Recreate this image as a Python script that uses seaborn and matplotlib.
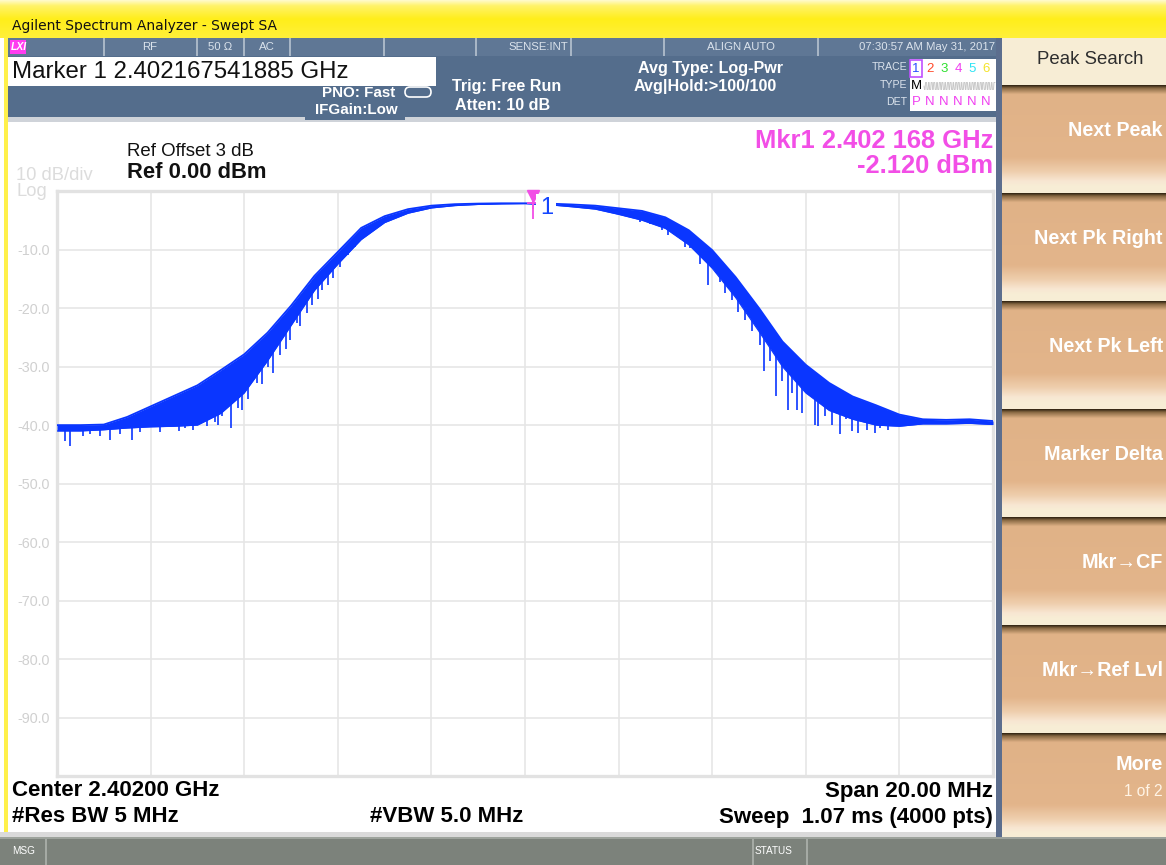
import matplotlib
matplotlib.use("Agg")
import numpy as np
import pandas as pd
import matplotlib.pyplot as plt
import matplotlib.patches as mpatches
from matplotlib import font_manager
from matplotlib.colors import LinearSegmentedColormap
from matplotlib.transforms import offset_copy
import seaborn as sns

# ---------------- instrument settings ----------------
center_mhz = 2402.0
span_mhz = 20.0
ref_dbm = 0.0
db_per_div = 10.0

# ---------------- measured trace (offset from centre, MHz / dBm) ----------------
offset_mhz = [-10.0, -9.5, -9.0, -8.5, -8.0, -7.5, -7.0, -6.5, -6.0, -5.5,
              -5.0, -4.5, -4.0, -3.5, -3.0, -2.5, -2.0, -1.5, -1.0, -0.5,
              0.0, 0.5, 1.0, 1.5, 2.0, 2.5, 3.0, 3.5, 4.0, 4.5,
              5.0, 5.5, 6.0, 6.5, 7.0, 7.5, 8.0, 8.5, 9.0, 9.5, 10.0]
peak_dbm = [-40.0, -40.0, -39.9, -38.6, -36.8, -35.0, -33.2, -30.6, -27.9, -24.2,
            -19.6, -14.5, -10.4, -6.3, -4.3, -3.1, -2.5, -2.25, -2.15, -2.1,
            -2.1, -2.15, -2.3, -2.5, -2.95, -3.4, -4.5, -6.7, -10.1, -14.7,
            -20.0, -25.7, -29.7, -32.8, -35.1, -36.6, -38.2, -39.0, -39.1, -39.0, -39.3]
floor_dbm = [-41.0, -41.0, -40.8, -40.5, -40.3, -40.2, -40.0, -38.0, -34.5, -29.0,
             -23.0, -17.0, -12.5, -8.3, -5.4, -3.8, -2.9, -2.5, -2.3, -2.2,
             -2.15, -2.35, -2.7, -3.1, -4.0, -5.0, -6.4, -9.2, -13.2, -18.2,
             -24.0, -30.0, -34.5, -37.5, -39.0, -40.0, -40.2, -39.8, -39.8, -39.7, -39.9]
dip_offset_mhz = [-9.83, -9.72, -9.45, -9.29, -9.08, -8.87, -8.65, -8.40, -8.23, -7.80,
                  -7.48, -7.40, -7.26, -7.09, -6.94, -6.80, -6.62, -6.55, -6.47, -6.28,
                  -6.13, -6.05, -5.92, -5.73, -5.62, -5.49, -5.39, -5.24, -5.10, -5.02,
                  -4.88, -4.81, -4.66, -4.55, -4.42, -4.34, -4.21, -4.10, -3.95, -3.78,
                  -3.63, -3.55, -3.42, -3.14,
                  2.46, 2.67, 2.92, 3.06, 3.42, 3.53, 3.74, 3.92, 4.17, 4.27,
                  4.42, 4.56, 4.70, 4.85, 5.02, 5.11, 5.24, 5.36, 5.49, 5.63,
                  5.71, 5.81, 5.92, 6.20, 6.27, 6.41, 6.56, 6.73, 6.86, 6.99,
                  7.12, 7.30, 7.48, 7.59, 7.76, 7.91]
dip_dbm = [-42.7, -43.6, -41.8, -41.5, -41.8, -42.5, -41.5, -42.5, -41.2, -41.1,
           -39.5, -41.0, -40.5, -40.8, -39.0, -40.2, -39.5, -40.0, -38.5, -40.5,
           -37.0, -37.4, -35.5, -32.8, -33.0, -30.0, -31.1, -28.0, -27.0, -25.5,
           -22.6, -23.0, -20.9, -19.5, -18.5, -16.9, -16.0, -14.9, -13.0, -10.9,
           -9.5, -8.5, -7.8, -6.2,
           -5.3, -5.6, -6.7, -7.5, -9.5, -9.8, -12.5, -16.0, -15.5, -17.5,
           -18.6, -20.6, -22.0, -24.0, -26.3, -30.8, -29.0, -35.1, -32.5, -37.4,
           -34.5, -37.4, -38.0, -39.9, -40.2, -38.5, -40.0, -41.6, -39.0, -41.0,
           -41.4, -40.8, -41.3, -40.5, -40.8, -40.2]
marker_offset_mhz = 0.168
marker_dbm = -2.120
ytick_dbm = [-10, -20, -30, -40, -50, -60, -70, -80, -90]

softkeys = ["Next Peak", "Next Pk Right", "Next Pk Left", "Marker Delta",
            "Mkr\u2192CF", "Mkr\u2192Ref Lvl", "More"]

# ---------------- style ----------------
sns.set_style("white")
installed = {f.name for f in font_manager.fontManager.ttflist}
SANS = ["Liberation Sans", "DejaVu Sans"]
HAS_NARROW = "Liberation Sans Narrow" in installed
NARROW = ["Liberation Sans Narrow", "DejaVu Sans"] if HAS_NARROW else SANS
plt.rcParams["font.family"] = SANS

TRACE_BLUE = "#0a36ff"
MAGENTA = "#f24ee6"
SLATE = "#546d8c"

W, H = 1166, 865
fig = plt.figure(figsize=(W / 100, H / 100), dpi=100, facecolor="white")

# screen chrome drawn in pixel coordinates; draw order follows call order
bg = fig.add_axes([0, 0, 1, 1], zorder=0)
bg.axis("off")
_z = [1.0]


def nz():
    _z[0] += 0.01
    return _z[0]


def box(x0, y0, x1, y1, color, **kw):
    bg.add_patch(mpatches.Rectangle((x0, y0), x1 - x0, y1 - y0, facecolor=color,
                                    edgecolor="none", zorder=nz(), **kw))


def vgrad(x0, y0, x1, y1, stops):
    cmap = LinearSegmentedColormap.from_list("g", stops)
    grad = np.linspace(0, 1, 256)[:, None]
    bg.imshow(grad, cmap=cmap, extent=(x0, x1, y1, y0), aspect="auto",
              interpolation="bilinear", origin="upper", zorder=nz())


def label(x, y, s, size, color="black", weight="normal", ha="left", family=None, **kw):
    bg.text(x, y, s, fontsize=size, color=color, fontweight=weight, ha=ha, va="center",
            family=family or SANS, zorder=nz(), **kw)


# title bar
vgrad(0, 0, W, 38, [(0, "#fffbd0"), (0.15, "#fff36a"), (0.5, "#ffee1a"), (1, "#fff03a")])
label(12, 26, "Agilent Spectrum Analyzer - Swept SA", 10, color="#111111",
      family=["DejaVu Sans"])
box(4, 38, 8, 838, "#fff04a")

# header block
box(8, 38, 997, 117, SLATE)
box(8, 38, 997, 56, "#5f7795")
for sx in [104, 197, 244, 290, 384, 476, 571, 664, 818]:
    box(sx - 1, 38, sx + 1, 56, "#a8b6c6")
box(10, 40, 26, 54, "#ff3cf0")
label(11, 47, "LXI", 7.5, color="white", weight="bold", style="italic")
hdr_c = "#dbe3ec"
label(150, 47, "RF", 8.2, color=hdr_c, ha="center", family=NARROW)
label(220, 47, "50 \u03a9", 8.2, color=hdr_c, ha="center", family=NARROW)
label(267, 47, "AC", 8.2, color=hdr_c, ha="center", family=NARROW)
label(568, 47, "SENSE:INT", 8.2, color=hdr_c, ha="right", family=NARROW)
label(741, 47, "ALIGN AUTO", 8.2, color=hdr_c, ha="center", family=NARROW)
label(995, 47, "07:30:57 AM May 31, 2017", 8.2, color=hdr_c, ha="right", family=NARROW)

box(8, 57, 436, 86, "white")
label(12, 72, "Marker 1 2.402167541885 GHz", 17.3, color="#111111")
box(8, 117, 997, 122, "#cfd3d9")
box(305, 100, 405, 120, SLATE)
label(322, 93, "PNO: Fast", 10.9, color="white", weight="bold")
label(315, 110, "IFGain:Low", 10.9, color="white", weight="bold")
bg.add_patch(mpatches.FancyBboxPatch((405, 87), 26, 10, boxstyle="round,pad=0,rounding_size=5",
                                     facecolor="none", edgecolor="white", lw=1.2, zorder=nz()))
label(452, 87, "Trig: Free Run", 11.6, color="white", weight="bold")
label(455, 106, "Atten: 10 dB", 11.6, color="white", weight="bold")
label(711, 68, "Avg Type: Log-Pwr", 11.6, color="white", weight="bold", ha="center")
label(705, 87, "Avg|Hold:>100/100", 11.6, color="white", weight="bold", ha="center")

# trace status box
label(907, 67, "TRACE", 7.6, color=hdr_c, ha="right", family=NARROW)
label(907, 85, "TYPE", 7.6, color=hdr_c, ha="right", family=NARROW)
label(907, 102, "DET", 7.6, color=hdr_c, ha="right", family=NARROW)
box(910, 59, 996, 111, "white")
trace_cols = ["#2a4dff", "#ff4a2a", "#2ee02e", "#f040f0", "#2ee4f4", "#f4e42a"]
for i, c in enumerate(trace_cols):
    tx = 916 + 14 * i
    label(tx, 69, str(i + 1), 9.5, color=c, ha="center")
    label(tx, 102, "P" if i == 0 else "N", 9.5, color="#f040f0", ha="center")
bg.add_patch(mpatches.Rectangle((910, 60), 12, 17, facecolor="none", edgecolor="#c050ff",
                                lw=1.2, zorder=nz()))
label(916, 86, "M", 9.5, color="black", ha="center")
wx = np.linspace(924, 995, 140)
bg.plot(wx, 86 + 3.5 * np.sign(np.sin((wx - 924) * 2.3)), color="#c8c8c8", lw=0.7, zorder=nz())

# reference and scale annotations
label(127, 152, "Ref Offset 3 dB", 13.4, color="#111111")
label(127, 173, "Ref 0.00 dBm", 15.8, color="#111111", weight="bold")
label(16, 176, "10 dB/div", 13.2, color="#dcdcdc")
label(16, 191, "Log", 13.2, color="#dcdcdc")
label(993, 141, f"Mkr1 {center_mhz / 1000 + marker_offset_mhz / 1000:.3f} 168 GHz", 18.4,
      color=MAGENTA, ha="right", weight="bold")
label(993, 166, f"{marker_dbm:.3f} dBm", 18.4, color=MAGENTA, ha="right", weight="bold")

# bottom settings lines
ns = 18.5 if HAS_NARROW else 16.0
label(12, 791, f"Center {center_mhz / 1000:.5f} GHz", ns, weight="bold", family=NARROW)
label(993, 791, f"Span {span_mhz:.2f} MHz", ns, weight="bold", ha="right", family=NARROW)
label(12, 817, "#Res BW 5 MHz", ns, weight="bold", family=NARROW)
label(370, 817, "#VBW 5.0 MHz", ns, weight="bold", family=NARROW)
label(993, 817, "Sweep  1.07 ms (4000 pts)", ns, weight="bold", ha="right", family=NARROW)

# status bar
box(0, 832, 997, 837, "#dadada")
box(0, 837, W, H, "#7c827b")
box(0, 837, W, 839, "#9da39c")
for sx in [45, 752, 806]:
    box(sx, 839, sx + 2, H, "#a5aaa4")
label(12, 851, "MSG", 7.2, color="white", family=NARROW)
label(755, 851, "STATUS", 7.2, color="white", family=NARROW)

# softkey panel
box(996, 38, 1002, 837, "#5c6e8e")
box(1002, 38, W, 837, "#f7edd5")
label(1090, 60, "Peak Search", 13.4, color="#2e2e2e", ha="center")
key_tops = [85, 193, 301, 409, 517, 625, 733]
for top, name in zip(key_tops, softkeys):
    bottom = top + 101 if name != "More" else 833
    vgrad(1002, top, W, bottom,
          [(0, "#2e2210"), (0.03, "#8a6a44"), (0.09, "#e0b287"), (0.72, "#e3b58b"),
           (0.86, "#efcfae"), (0.95, "#f8e6d2"), (1, "#f7edd5")])
    if name == "More":
        label(1163, top + 31, name, 14.2, color="white", weight="bold", ha="right")
        label(1163, top + 58, "1 of 2", 11.2, color="#fff4e6", ha="right")
    else:
        label(1163, top + 46, name, 14.2, color="white", weight="bold", ha="right")

bg.set_xlim(0, W)
bg.set_ylim(H, 0)

# ---------------- spectrum plot ----------------
x0_px, x1_px, y0_px, y1_px = 57, 993, 191, 776.3
ax = fig.add_axes([x0_px / W, 1 - y1_px / H, (x1_px - x0_px) / W, (y1_px - y0_px) / H], zorder=2)
ax.set_facecolor("white")

freq = center_mhz + np.asarray(offset_mhz)
trace = pd.DataFrame({"freq": freq, "peak": peak_dbm, "floor": floor_dbm})
ax.fill_between(trace["freq"], trace["floor"], trace["peak"], color=TRACE_BLUE, lw=0, zorder=3)
sns.lineplot(data=trace, x="freq", y="peak", ax=ax, color=TRACE_BLUE, lw=1.3, zorder=4)
sns.lineplot(data=trace, x="freq", y="floor", ax=ax, color=TRACE_BLUE, lw=0.8, zorder=4)
dip_f = center_mhz + np.asarray(dip_offset_mhz)
ax.vlines(dip_f, dip_dbm, np.interp(dip_f, freq, floor_dbm) + 0.3, color=TRACE_BLUE,
          lw=1.2, zorder=3)

# marker 1
mf = center_mhz + marker_offset_mhz
ax.plot([mf], [marker_dbm], marker="+", ms=9, mew=1.3, color=MAGENTA, zorder=6)
ax.plot([mf], [marker_dbm], marker="|", ms=14, mew=1.3, color=MAGENTA, zorder=6,
        transform=offset_copy(ax.transData, fig=fig, y=-4, units="points"))
ax.plot([mf], [marker_dbm], marker="v", ms=8, color=MAGENTA, zorder=6, clip_on=False,
        transform=offset_copy(ax.transData, fig=fig, y=5.5, units="points"))
ax.annotate("1", xy=(mf, marker_dbm), xytext=(5, -3.5), textcoords="offset points",
            ha="left", va="center", fontsize=17, color="#1446ff", zorder=7,
            bbox=dict(boxstyle="square,pad=0.15", facecolor="white", edgecolor="none"))

ax.set_xlim(center_mhz - span_mhz / 2, center_mhz + span_mhz / 2)
ax.set_ylim(ref_dbm - 10 * db_per_div, ref_dbm)
ax.set_xticks(center_mhz + np.arange(-8, 9, 2))
ax.set_xticklabels([])
ax.set_yticks(ytick_dbm)
ax.set_yticklabels([f"{v:.1f}" for v in ytick_dbm])
ax.tick_params(axis="both", length=0)
ax.tick_params(axis="y", pad=5, labelsize=10.4, labelcolor="#d0d0d0")
ax.grid(True, color="#e6e6e6", lw=1.2)
ax.set_axisbelow(True)
ax.set_xlabel("")
ax.set_ylabel("")
for sp in ax.spines.values():
    sp.set_color("#e2e2e2")
    sp.set_linewidth(2.4)

fig.savefig("out.png", dpi=100, facecolor="white")
